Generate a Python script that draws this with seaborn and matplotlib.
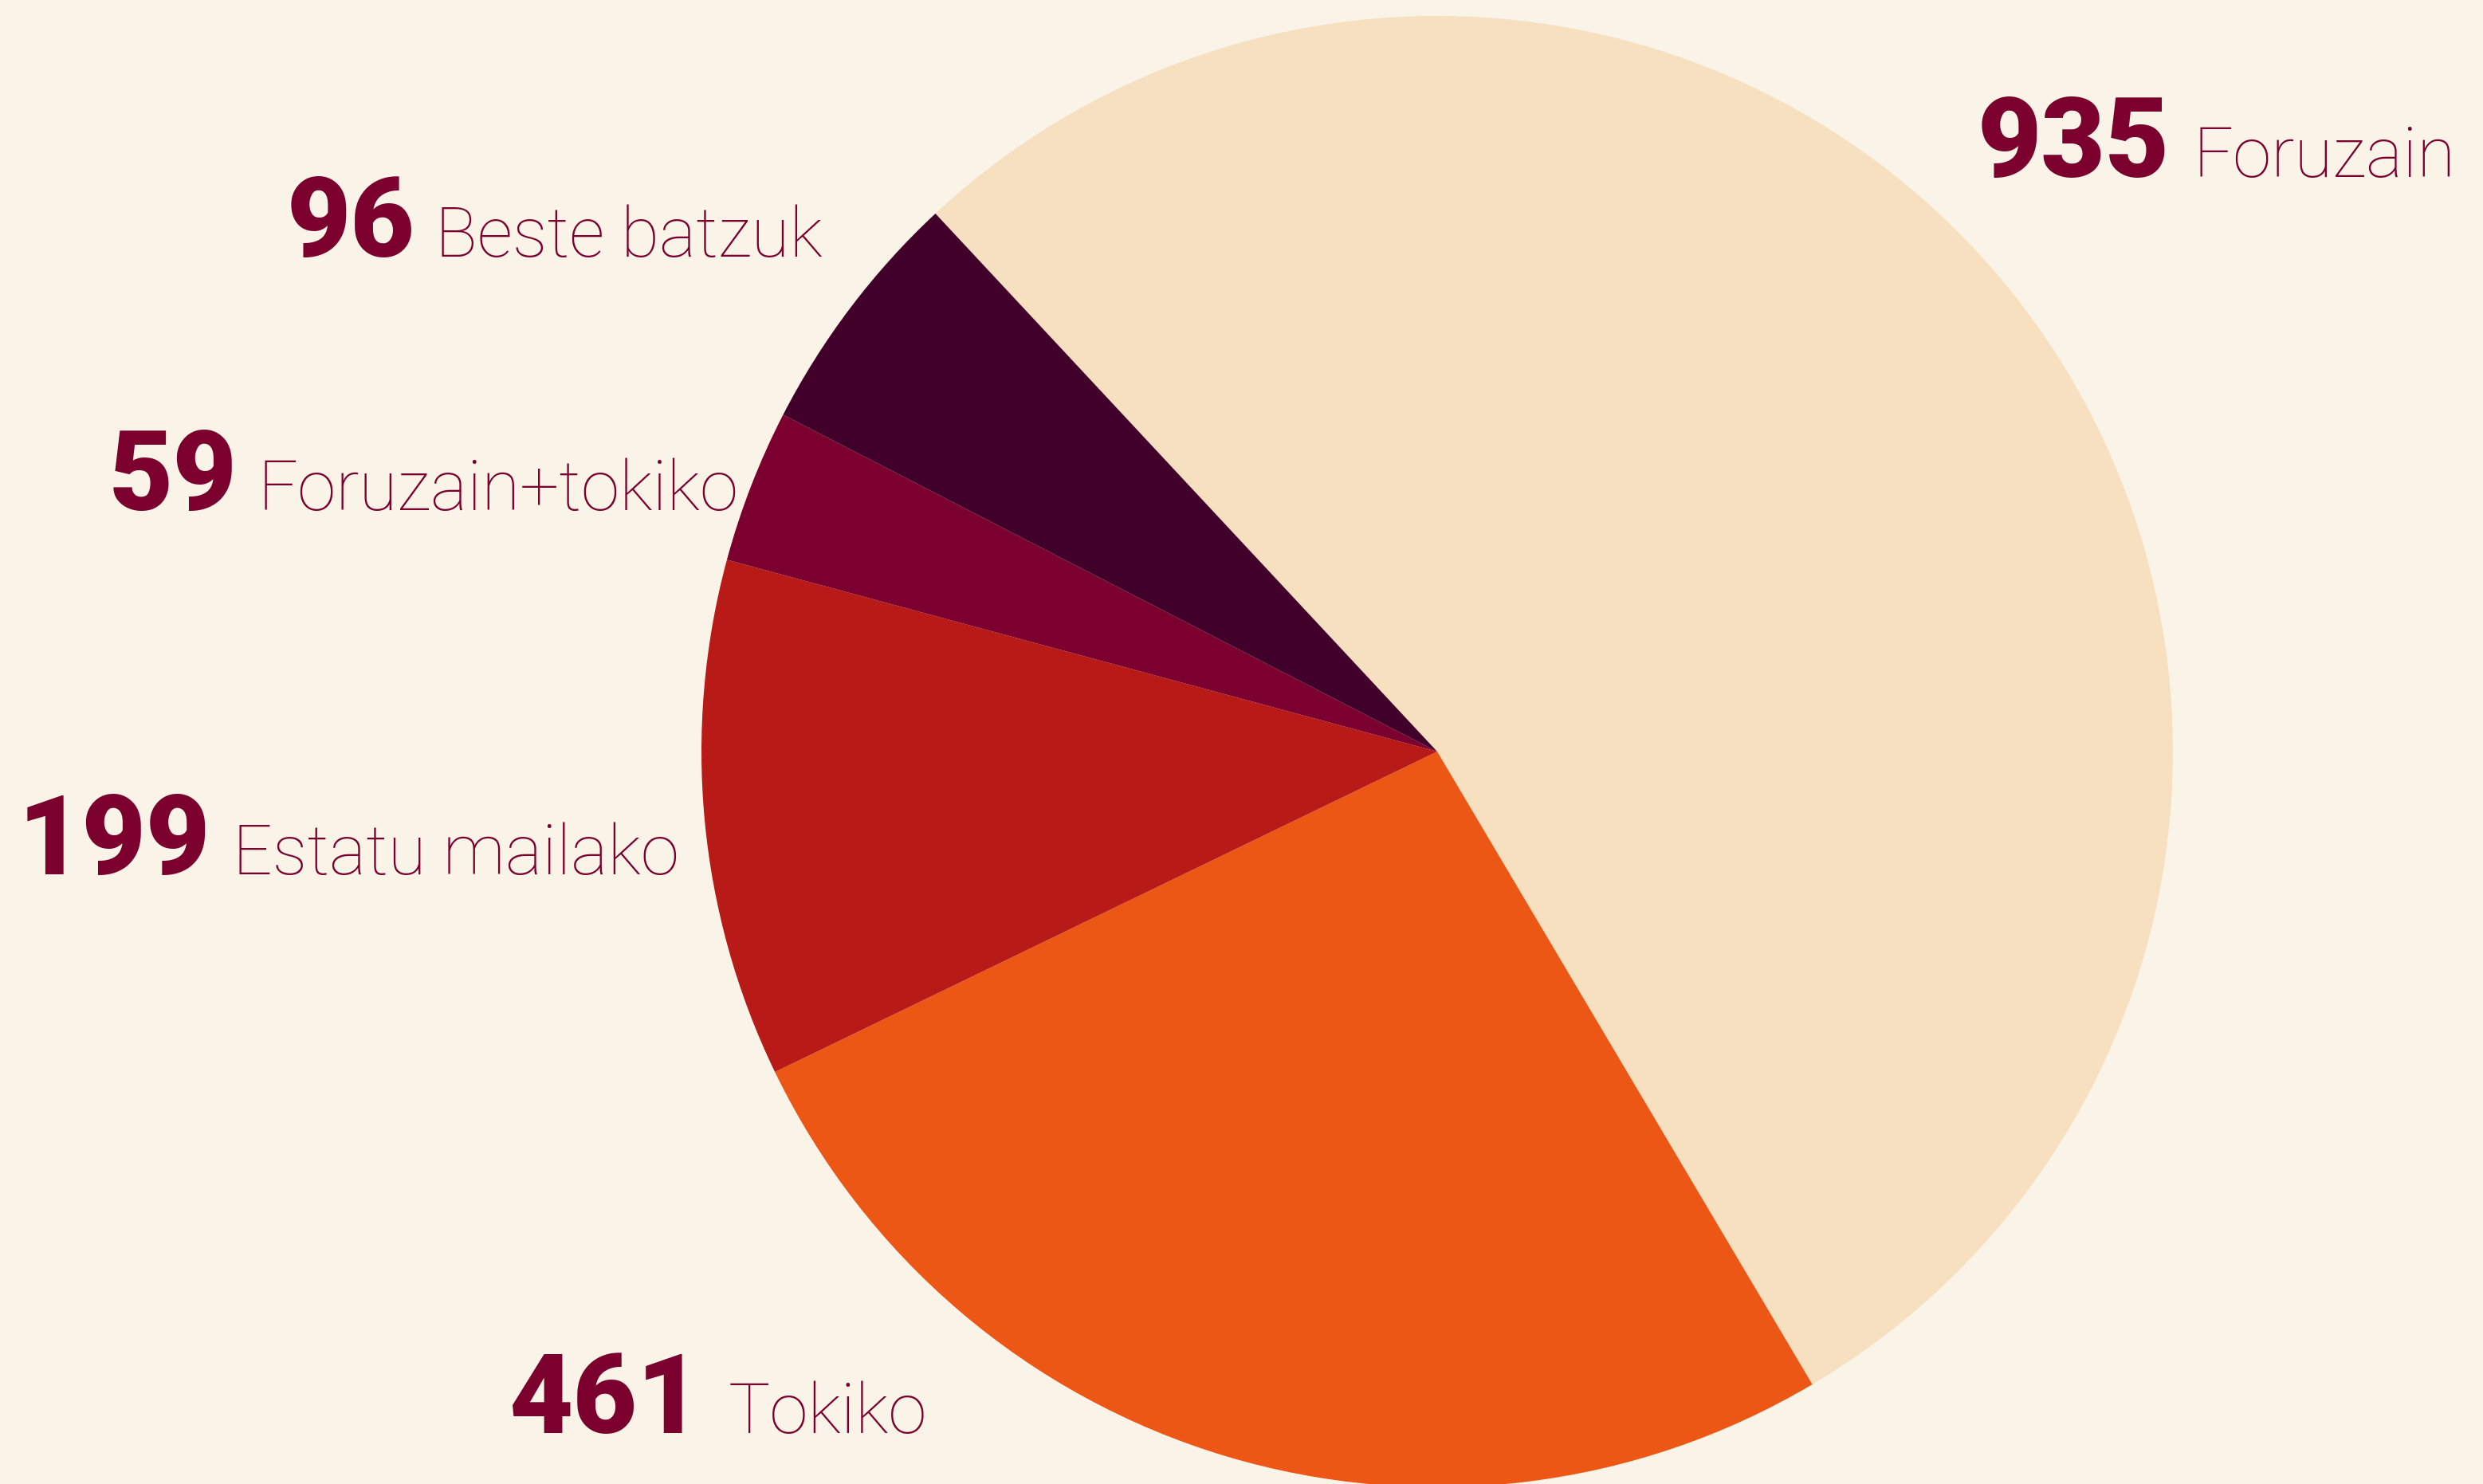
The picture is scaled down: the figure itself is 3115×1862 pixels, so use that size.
import matplotlib
matplotlib.use("Agg")
import matplotlib.pyplot as plt
import seaborn as sns

sns.set_theme(style="white")
plt.rcParams['font.family'] = ['Roboto', 'DejaVu Sans']

categories = ["Foruzain", "Tokiko", "Estatu mailako", "Foruzain+tokiko", "Beste batzuk"]
values = [935, 461, 199, 59, 96]
colors = ["#F6E0BF", "#EC5716", "#B81A17", "#7C002F", "#41002A"]
number_labels = ["935", "461", "199", "59", "96"]

BG = "#FAF3E8"
TXT = "#7B002E"
W, H = 3115, 1862

fig = plt.figure(figsize=(W / 100, H / 100), dpi=100, facecolor=BG)
ax = fig.add_axes([0, 0, 1, 1])
ax.set_facecolor(BG)

ax.pie(values, colors=colors, startangle=133, counterclock=False,
       center=(1803, H - 943), radius=923, frame=True,
       wedgeprops=dict(linewidth=0))
ax.set_xlim(0, W)
ax.set_ylim(0, H)
ax.set_aspect('equal')
ax.axis('off')

# label anchors (number right edge, label left edge, baseline) in pixel coords (y from top)
anchors = {
    "Foruzain": (2722, 2751, 222),
    "Tokiko": (880, 914, 1798),
    "Estatu mailako": (264, 292, 1097),
    "Foruzain+tokiko": (298, 324, 640),
    "Beste batzuk": (520, 546, 322),
}
for cat, num in zip(categories, number_labels):
    xr, xl, yb = anchors[cat]
    ax.text(xr, H - yb, num, ha='right', va='baseline', fontsize=100,
            fontweight=900, color=TXT)
    ax.text(xl, H - yb, cat, ha='left', va='baseline', fontsize=63,
            fontweight=200, color=TXT)

fig.savefig("out.png", dpi=100, facecolor=BG)
